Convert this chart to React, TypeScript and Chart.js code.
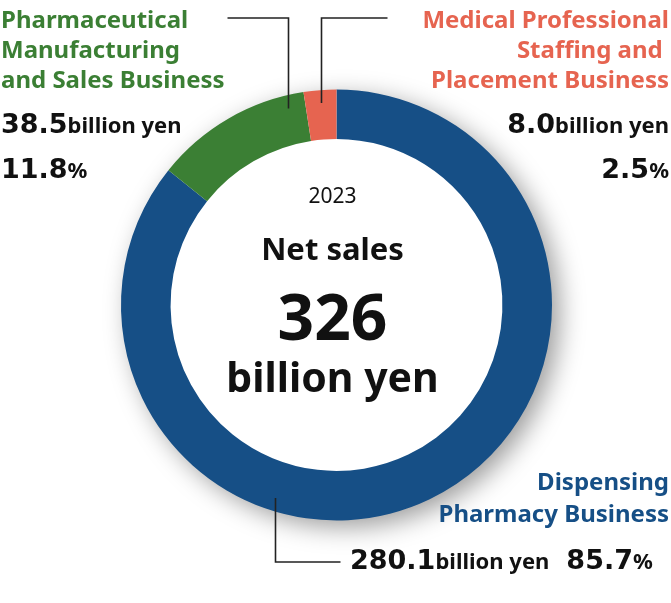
import React, { useEffect, useRef } from 'react';
import { Chart, registerables } from 'chart.js';

Chart.register(...registerables);

// ---- data ----
const segments = [
  'Dispensing Pharmacy Business',
  'Pharmaceutical Manufacturing and Sales Business',
  'Medical Professional Staffing and Placement Business',
];
const salesBillionYen = [280.1, 38.5, 8.0];
const salesLabels = ['280.1', '38.5', '8.0'];
const sharePct = ['85.7', '11.8', '2.5'];
const colors = ['#164f86', '#3b7f34', '#e66450'];
const titleLines = [
  ['Dispensing', 'Pharmacy Business'],
  ['Pharmaceutical', 'Manufacturing', 'and Sales Business'],
  ['Medical Professional', 'Staffing and ', 'Placement Business'],
];
const year = '2023';
const totalLabel = 'Net sales';
const totalValue = '326';
const unit = 'billion yen';

const FONT = '"Noto Sans", "Open Sans", sans-serif';
const NUMFONT = '"DejaVu Sans", "Noto Sans", sans-serif';

const shadowPlugin = {
  id: 'ringShadow',
  beforeDatasetsDraw(chart: any) {
    const meta = chart.getDatasetMeta(0);
    const arc = meta.data[0];
    if (!arc) return;
    const { x, y, outerRadius } = arc.getProps(['x', 'y', 'outerRadius'], true);
    const ctx = chart.ctx;
    ctx.save();
    ctx.shadowColor = 'rgba(0,0,0,0.4)';
    ctx.shadowBlur = 26;
    ctx.shadowOffsetX = 8;
    ctx.shadowOffsetY = 7;
    ctx.beginPath();
    ctx.arc(x, y, outerRadius - 1, 0, Math.PI * 2);
    ctx.fillStyle = '#ffffff';
    ctx.fill();
    ctx.restore();
  },
};

const leaderFrac = [0.64, 0.88, 0.5];

const annotPlugin = {
  id: 'annot',
  afterDatasetsDraw(chart: any) {
    const meta = chart.getDatasetMeta(0);
    const ctx = chart.ctx;
    const a0 = meta.data[0];
    const { x: cx, y: cy, outerRadius } = a0.getProps(['x', 'y', 'outerRadius'], true);

    // leader lines
    const ends = [
      { y: 562, dx: 65 },
      { y: 18, dx: -61 },
      { y: 18, dx: 66 },
    ];
    ctx.save();
    ctx.strokeStyle = '#222';
    ctx.lineWidth = 1.6;
    meta.data.forEach((arc: any, i: number) => {
      const { startAngle, endAngle } = arc.getProps(['startAngle', 'endAngle'], true);
      const a = startAngle + (endAngle - startAngle) * leaderFrac[i];
      const r = outerRadius - 13;
      const px = Math.round(cx + r * Math.cos(a)) + 0.5;
      const py = cy + r * Math.sin(a);
      ctx.beginPath();
      ctx.moveTo(px, py);
      ctx.lineTo(px, ends[i].y);
      ctx.lineTo(px + ends[i].dx, ends[i].y);
      ctx.stroke();
    });
    ctx.restore();

    // center text
    const tx = cx - 4;
    ctx.save();
    ctx.fillStyle = '#111';
    ctx.textAlign = 'center';
    ctx.textBaseline = 'alphabetic';
    ctx.font = `21px ${FONT}`;
    ctx.fillText(year, tx, 203);
    ctx.font = `bold 31px ${FONT}`;
    ctx.fillText(totalLabel, tx, 260);
    ctx.font = `bold 64px ${FONT}`;
    ctx.fillText(totalValue, tx, 340);
    ctx.font = `bold 41px ${FONT}`;
    ctx.fillText(unit, tx, 392);
    ctx.restore();

    // segment labels
    type Run = { t: string; f: string; gap?: number };
    const drawRuns = (runs: Run[], x: number, y: number, align: 'left' | 'right') => {
      const widths = runs.map((r) => {
        if (r.gap) return r.gap;
        ctx.font = r.f;
        return ctx.measureText(r.t).width;
      });
      const total = widths.reduce((s, w) => s + w, 0);
      let sx = align === 'left' ? x : x - total;
      ctx.textAlign = 'left';
      runs.forEach((r, k) => {
        if (!r.gap) { ctx.font = r.f; ctx.fillText(r.t, sx, y); }
        sx += widths[k];
      });
    };
    const big = `bold 27px ${NUMFONT}`;
    const small = `bold 22px ${FONT}`;
    const title = `bold 24px ${FONT}`;

    ctx.save();
    ctx.textBaseline = 'alphabetic';
    // green (left)
    ctx.fillStyle = colors[1];
    ctx.font = title;
    ctx.textAlign = 'left';
    titleLines[1].forEach((l, k) => ctx.fillText(l, 1, 28 + k * 30));
    ctx.fillStyle = '#111';
    drawRuns([{ t: salesLabels[1], f: big }, { t: unit, f: small }], 1, 133, 'left');
    drawRuns([{ t: sharePct[1], f: big }, { t: '%', f: small }], 1, 178, 'left');

    // orange (right)
    ctx.fillStyle = colors[2];
    ctx.font = title;
    ctx.textAlign = 'right';
    titleLines[2].forEach((l, k) => ctx.fillText(l, 669, 28 + k * 30));
    ctx.fillStyle = '#111';
    drawRuns([{ t: salesLabels[2], f: big }, { t: unit, f: small }], 669, 133, 'right');
    drawRuns([{ t: sharePct[2], f: big }, { t: '%', f: small }], 669, 178, 'right');

    // blue (bottom right)
    ctx.fillStyle = colors[0];
    ctx.font = title;
    ctx.textAlign = 'right';
    titleLines[0].forEach((l, k) => ctx.fillText(l, 669, 490 + k * 32));
    ctx.fillStyle = '#111';
    drawRuns(
      [
        { t: salesLabels[0], f: big },
        { t: unit, f: small },
        { t: '', f: big, gap: 17 },
        { t: sharePct[0], f: big },
        { t: '%', f: small },
      ],
      350, 569, 'left'
    );
    ctx.restore();
  },
};

export default function App() {
  const ref = useRef<HTMLCanvasElement | null>(null);
  useEffect(() => {
    if (!ref.current) return;
    const chart = new Chart(ref.current, {
      type: 'doughnut',
      data: {
        labels: segments,
        datasets: [
          {
            data: salesBillionYen,
            backgroundColor: colors,
            borderWidth: 0,
            hoverOffset: 0,
          },
        ],
      },
      options: {
        responsive: false,
        animation: false,
        cutout: '77%',
        layout: { padding: { left: 121, right: 119, top: 89, bottom: 82 } },
        plugins: { legend: { display: false }, tooltip: { enabled: false } },
      },
      plugins: [shadowPlugin, annotPlugin],
    });
    return () => chart.destroy();
  }, []);
  return (
    <div style={{ position: 'fixed', left: 0, top: 0, width: 671, height: 603, background: '#fff' }}>
      <canvas ref={ref} width={671} height={603} style={{ display: 'block' }} />
    </div>
  );
}
